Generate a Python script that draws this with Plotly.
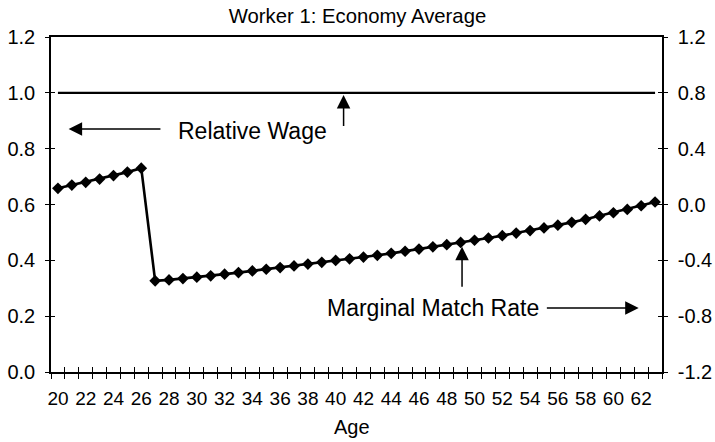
import plotly.graph_objects as go

# ---- data ----
ages = [20, 21, 22, 23, 24, 25, 26, 27, 28, 29, 30, 31, 32, 33, 34, 35, 36, 37, 38, 39, 40, 41,
        42, 43, 44, 45, 46, 47, 48, 49, 50, 51, 52, 53, 54, 55, 56, 57, 58, 59, 60, 61, 62, 63]

relative_wage = [1.0, 1.0, 1.0, 1.0, 1.0, 1.0, 1.0, 1.0, 1.0, 1.0, 1.0, 1.0, 1.0, 1.0, 1.0,
                 1.0, 1.0, 1.0, 1.0, 1.0, 1.0, 1.0, 1.0, 1.0, 1.0, 1.0, 1.0, 1.0, 1.0, 1.0,
                 1.0, 1.0, 1.0, 1.0, 1.0, 1.0, 1.0, 1.0, 1.0, 1.0, 1.0, 1.0, 1.0, 1.0]

marginal_match_rate = [0.116, 0.139, 0.159, 0.182, 0.207, 0.232, 0.260,
                       -0.547, -0.540, -0.531, -0.521, -0.511, -0.499, -0.488, -0.476,
                       -0.464, -0.452, -0.440, -0.427, -0.414, -0.401, -0.389, -0.377,
                       -0.364, -0.350, -0.335, -0.319, -0.303, -0.288, -0.272, -0.256,
                       -0.240, -0.223, -0.205, -0.187, -0.168, -0.148, -0.128, -0.106,
                       -0.082, -0.059, -0.035, -0.009, 0.018]

x_tick_vals = [20, 22, 24, 26, 28, 30, 32, 34, 36, 38, 40, 42, 44, 46, 48, 50, 52, 54, 56, 58, 60, 62]
x_tick_text = ["20", "22", "24", "26", "28", "30", "32", "34", "36", "38", "40", "42",
               "44", "46", "48", "50", "52", "54", "56", "58", "60", "62"]
category_edges = [19.5, 20.5, 21.5, 22.5, 23.5, 24.5, 25.5, 26.5, 27.5, 28.5, 29.5, 30.5,
                  31.5, 32.5, 33.5, 34.5, 35.5, 36.5, 37.5, 38.5, 39.5, 40.5, 41.5, 42.5,
                  43.5, 44.5, 45.5, 46.5, 47.5, 48.5, 49.5, 50.5, 51.5, 52.5, 53.5, 54.5,
                  55.5, 56.5, 57.5, 58.5, 59.5, 60.5, 61.5, 62.5, 63.5]

left_tick_vals = [0.0, 0.2, 0.4, 0.6, 0.8, 1.0, 1.2]
left_tick_text = ["0.0", "0.2", "0.4", "0.6", "0.8", "1.0", "1.2"]
right_tick_vals = [-1.2, -0.8, -0.4, 0.0, 0.4, 0.8, 1.2]
right_tick_text = ["-1.2", "-0.8", "-0.4", "0.0", "0.4", "0.8", "1.2"]

FONT = "Arial, 'Liberation Sans', Helvetica, sans-serif"
BLACK = "#000000"

fig = go.Figure()

fig.add_trace(go.Scatter(
    x=ages, y=relative_wage, mode="lines",
    line=dict(color=BLACK, width=2.2),
    xaxis="x", yaxis="y", showlegend=False, hoverinfo="skip"))

fig.add_trace(go.Scatter(
    x=ages, y=marginal_match_rate, mode="lines+markers",
    line=dict(color=BLACK, width=2.6),
    marker=dict(symbol="diamond", size=9, color=BLACK),
    xaxis="x", yaxis="y2", showlegend=False, hoverinfo="skip"))

# empty helper traces so the overlay axes (inner half of the cross ticks) are drawn
fig.add_trace(go.Scatter(x=[None], y=[None], xaxis="x2", yaxis="y3",
                         showlegend=False, hoverinfo="skip"))
fig.add_trace(go.Scatter(x=[None], y=[None], xaxis="x", yaxis="y4",
                         showlegend=False, hoverinfo="skip"))

x_range = [19.5, 63.5]

fig.update_layout(
    width=715, height=442,
    margin=dict(l=51, r=53, t=37, b=70, autoexpand=False),
    paper_bgcolor="white", plot_bgcolor="white",
    font=dict(family=FONT, color=BLACK, size=20),
    title=dict(text="Worker 1: Economy Average", x=0.5, xref="container",
               xanchor="center", y=0.964, yanchor="middle",
               font=dict(family=FONT, size=20.3, color=BLACK)),
    xaxis=dict(
        range=x_range, tickmode="array", tickvals=x_tick_vals, ticktext=x_tick_text,
        ticks="", showline=True, linecolor=BLACK, linewidth=1.5, mirror=True,
        showgrid=False, zeroline=False, tickfont=dict(size=19), automargin=False,
        ticklabelstandoff=8,
        minor=dict(tickmode="array", tickvals=category_edges, ticks="outside",
                   ticklen=5, tickwidth=1.3, tickcolor=BLACK, showgrid=False),
    ),
    xaxis2=dict(
        range=x_range, overlaying="x", anchor="y", side="bottom", automargin=False,
        tickmode="array", tickvals=category_edges, ticks="inside", ticklen=5,
        tickwidth=1.3, tickcolor=BLACK, showticklabels=False, showline=False,
        showgrid=False, zeroline=False),
    yaxis=dict(
        range=[0, 1.2], tickmode="array", tickvals=left_tick_vals, ticktext=left_tick_text,
        ticks="outside", ticklen=4, tickwidth=1.3, tickcolor=BLACK, automargin=False,
        showline=True, linecolor=BLACK, linewidth=1.5, showgrid=False, zeroline=False,
        tickfont=dict(size=20), ticklabelstandoff=6),
    yaxis3=dict(
        range=[0, 1.2], overlaying="y", anchor="x", side="left", automargin=False,
        tickmode="array", tickvals=left_tick_vals, ticks="inside", ticklen=4,
        tickwidth=1.3, tickcolor=BLACK, showticklabels=False, showline=False,
        showgrid=False, zeroline=False),
    yaxis2=dict(
        range=[-1.2, 1.2], overlaying="y", anchor="x", side="right", automargin=False,
        tickmode="array", tickvals=right_tick_vals, ticktext=right_tick_text,
        ticks="outside", ticklen=4, tickwidth=1.3, tickcolor=BLACK,
        showline=True, linecolor=BLACK, linewidth=1.5, showgrid=False, zeroline=False,
        tickfont=dict(size=20), ticklabelstandoff=6),
    yaxis4=dict(
        range=[-1.2, 1.2], overlaying="y", anchor="x", side="right", automargin=False,
        tickmode="array", tickvals=right_tick_vals, ticks="inside", ticklen=4,
        tickwidth=1.3, tickcolor=BLACK, showticklabels=False, showline=False,
        showgrid=False, zeroline=False),
)

# x-axis title "Age", placed below the tick labels
fig.add_annotation(x=0.4934, y=-0.164, xref="paper", yref="paper", text="Age",
                   showarrow=False, xanchor="center", yanchor="middle",
                   font=dict(size=20, family=FONT, color=BLACK))

arrow_style = dict(showarrow=True, text="", arrowhead=2, arrowsize=1.8, arrowwidth=1.5,
                   arrowcolor=BLACK, xref="x", yref="y", axref="x", ayref="y")

# "<- Relative Wage" and its pointer up to the wage line
fig.add_annotation(x=20.77, y=0.870, ax=27.49, ay=0.870, **arrow_style)
fig.add_annotation(x=40.57, y=0.992, ax=40.57, ay=0.876, **arrow_style)
fig.add_annotation(x=34.03, y=0.863, xref="x", yref="y", text="Relative Wage",
                   showarrow=False, font=dict(size=23, family=FONT, color=BLACK))

# "Marginal Match Rate ->" and its pointer up to the match-rate line
fig.add_annotation(x=61.82, y=0.229, ax=55.10, ay=0.229, **arrow_style)
fig.add_annotation(x=49.10, y=0.449, ax=49.10, ay=0.300, **arrow_style)
fig.add_annotation(x=46.99, y=0.228, xref="x", yref="y", text="Marginal Match Rate",
                   showarrow=False, font=dict(size=23, family=FONT, color=BLACK))

# the page's default 8px body margin would shift the 715x442 figure; remove it
fig.write_html("out.html",
               config={"displayModeBar": False},
               post_script="document.body.style.margin='0px';"
                           "document.body.style.overflow='hidden';")
